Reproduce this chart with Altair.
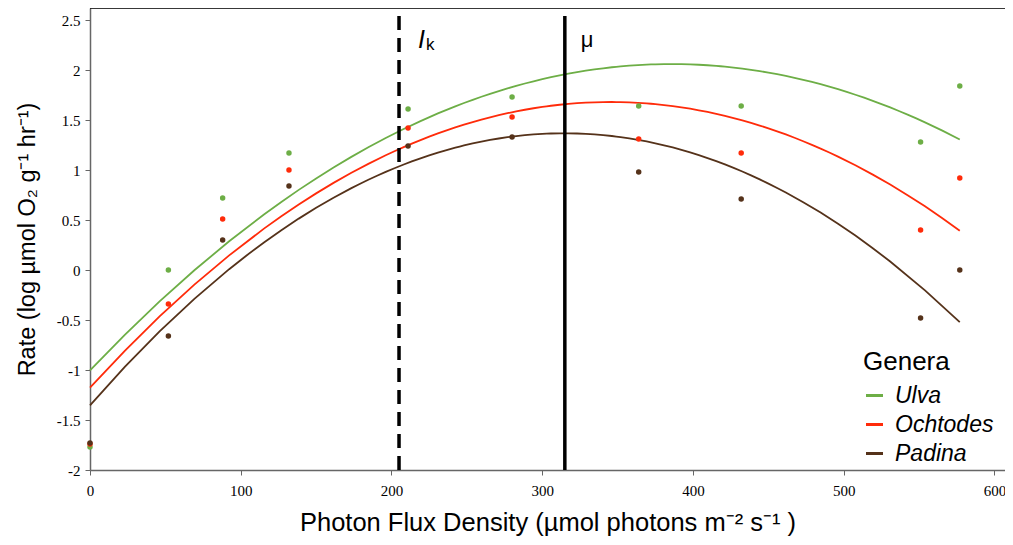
import altair as alt
import pandas as pd

# ---- data ----
pfd = [0, 52, 88, 132, 211, 280, 364, 432, 551, 577]
ulva = [-1.77, 0.0, 0.72, 1.17, 1.61, 1.73, 1.64, 1.64, 1.28, 1.84]
ochtodes = [-1.74, -0.34, 0.51, 1.00, 1.42, 1.53, 1.31, 1.17, 0.40, 0.92]
padina = [-1.73, -0.66, 0.30, 0.84, 1.24, 1.33, 0.98, 0.71, -0.48, 0.0]
genera = ["Ulva", "Ochtodes", "Padina"]
colors = ["#6DAE46", "#FF2B0A", "#55321A"]
ik_value = 205
mu_value = 315
y_ticks = [-2, -1.5, -1, -0.5, 0, 0.5, 1, 1.5, 2, 2.5]
x_ticks = [0, 100, 200, 300, 400, 500, 600]

rows = []
for g, vals in zip(genera, [ulva, ochtodes, padina]):
    for x, v in zip(pfd, vals):
        rows.append({"pfd": x, "rate": v, "genus": g})
df = pd.DataFrame(rows)

X_DOM = [0, 607]
Y_DOM = [-2, 2.62]
W, H = 915, 462

xs = alt.Scale(domain=X_DOM, nice=False, zero=False)
ys = alt.Scale(domain=Y_DOM, nice=False, zero=False)
color = alt.Color(
    "genus:N",
    scale=alt.Scale(domain=genera, range=colors),
    sort=genera,
    legend=alt.Legend(
        title="Genera",
        orient="none",
        legendX=773,
        legendY=341,
        symbolType="stroke",
        symbolSize=290,
        symbolStrokeWidth=3,
        labelFont="Liberation Sans",
        labelFontSize=23,
        labelFontStyle="italic",
        labelColor="#000",
        labelOffset=9,
        titleFont="Liberation Sans",
        titleFontSize=26,
        titleFontWeight="normal",
        titleColor="#000",
        titlePadding=9,
        rowPadding=5,
    ),
)

base = alt.Chart(df)

x_axis = alt.Axis(
    values=x_ticks,
    title="Photon Flux Density (µmol photons m⁻² s⁻¹ )",
    titleFont="Liberation Sans",
    titleFontSize=25.5,
    titleFontWeight="normal",
    titleColor="#000",
    titlePadding=12,
    labelFont="Liberation Serif",
    labelFontSize=15,
    labelColor="#000",
    labelPadding=8,
    labelFlush=False,
    tickSize=5,
    tickColor="#666",
    domainColor="#666",
    domainWidth=1.5,
    grid=False,
)
y_axis = alt.Axis(
    values=y_ticks,
    title="Rate (log µmol O₂ g⁻¹ hr⁻¹)",
    titleFont="Liberation Sans",
    titleFontSize=23.5,
    titleFontWeight="normal",
    titleColor="#000",
    titlePadding=17,
    labelFont="Liberation Serif",
    labelFontSize=15,
    labelColor="#000",
    labelPadding=5,
    labelFlush=False,
    labelExpr="replace(format(datum.value, '~g'), '\u2212', '-')",
    tickSize=5,
    tickColor="#666",
    domainColor="#666",
    domainWidth=1.5,
    grid=False,
)

points = base.mark_circle(size=30, opacity=1).encode(
    x=alt.X("pfd:Q", scale=xs, axis=x_axis),
    y=alt.Y("rate:Q", scale=ys, axis=y_axis),
    color=alt.Color("genus:N", scale=alt.Scale(domain=genera, range=colors), legend=None),
)

curves = base.transform_regression(
    "pfd", "rate", groupby=["genus"], method="poly", order=2, extent=[0, 577]
).mark_line(strokeWidth=1.8).encode(
    x=alt.X("pfd:Q", scale=xs),
    y=alt.Y("rate:Q", scale=ys),
    color=color,
)

lines_df = pd.DataFrame({
    "x": [ik_value, mu_value],
    "top": [2.54, 2.54],
    "bottom": [-2, -2],
    "kind": ["Ik", "mu"],
})
ik_rule = alt.Chart(lines_df[lines_df.kind == "Ik"]).mark_rule(
    color="#000", strokeWidth=3.5, strokeDash=[14, 8]
).encode(x=alt.X("x:Q", scale=xs), y=alt.Y("top:Q", scale=ys), y2="bottom:Q")
mu_rule = alt.Chart(lines_df[lines_df.kind == "mu"]).mark_rule(
    color="#000", strokeWidth=3.5
).encode(x=alt.X("x:Q", scale=xs), y=alt.Y("top:Q", scale=ys), y2="bottom:Q")

lab_df = pd.DataFrame({"x": [ik_value, mu_value], "y": [2.3, 2.3]})
lab_ik_I = alt.Chart(lab_df.iloc[[0]]).mark_text(
    text="I", font="Liberation Sans", fontSize=25, fontStyle="italic",
    align="left", baseline="middle", dx=19, color="#000"
).encode(x=alt.X("x:Q", scale=xs), y=alt.Y("y:Q", scale=ys))
lab_ik_k = alt.Chart(lab_df.iloc[[0]]).mark_text(
    text="k", font="Liberation Sans", fontSize=17,
    align="left", baseline="middle", dx=27, dy=5, color="#000"
).encode(x=alt.X("x:Q", scale=xs), y=alt.Y("y:Q", scale=ys))
lab_mu = alt.Chart(lab_df.iloc[[1]]).mark_text(
    text="μ", font="Liberation Sans", fontSize=22,
    align="left", baseline="middle", dx=16, color="#000"
).encode(x=alt.X("x:Q", scale=xs), y=alt.Y("y:Q", scale=ys))

top_frame = alt.Chart(pd.DataFrame({"t": [Y_DOM[1]]})).mark_rule(
    color="#000", strokeWidth=1.5
).encode(y=alt.Y("t:Q", scale=ys), x=alt.value(0), x2=alt.value(W))

chart = alt.layer(
    top_frame, curves, points, ik_rule, mu_rule, lab_ik_I, lab_ik_k, lab_mu
).properties(
    width=W,
    height=H,
    autosize=alt.AutoSizeParams(type="none"),
    padding={"left": 82, "top": 0, "right": 0, "bottom": 70},
).configure_view(stroke=None).configure(background="white")

chart.save("out.html", embed_options={"renderer": "svg", "actions": False})
